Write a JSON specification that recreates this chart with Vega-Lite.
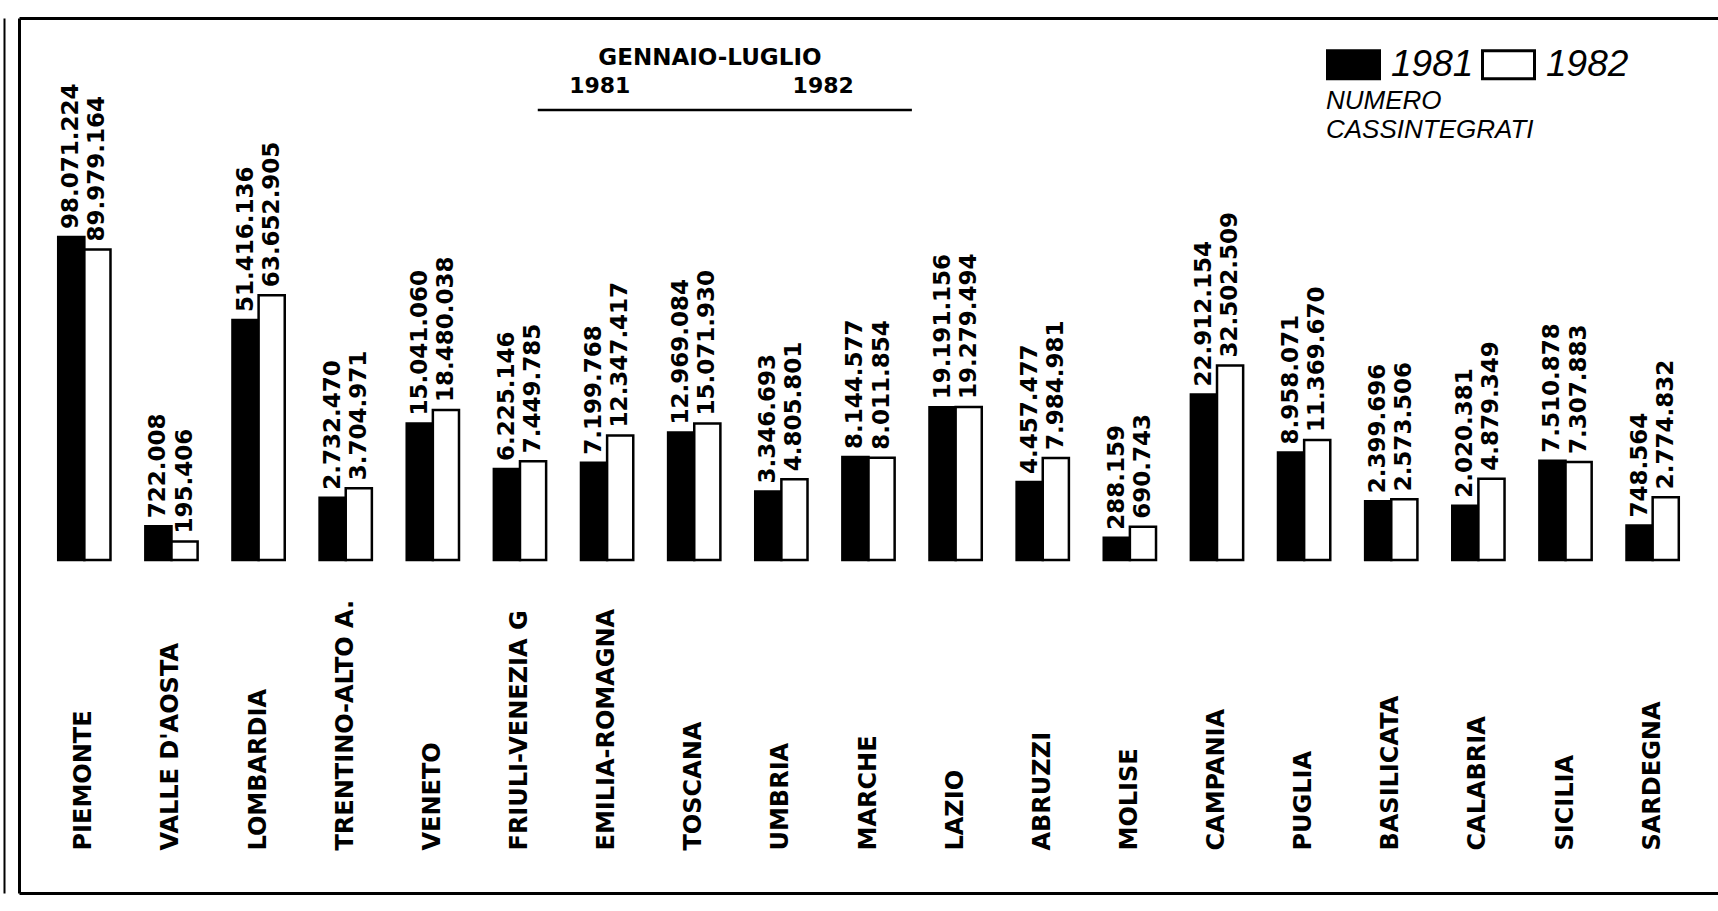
{
  "$schema": "https://vega.github.io/schema/vega-lite/v6.json",
  "width": 1699,
  "height": 875,
  "autosize": {"type": "none"},
  "padding": {"left": 19, "top": 18, "right": 0, "bottom": 18},
  "background": "white",
  "config": {
    "view": {"stroke": null},
    "font": "DejaVu Sans",
    "locale": {"number": {"decimal": ",", "thousands": ".", "grouping": [3], "currency": ["", ""]}}
  },
  "datasets": {
    "cig": [
      {"regione": "PIEMONTE", "anno": "1981", "valore": 98071224},
      {"regione": "PIEMONTE", "anno": "1982", "valore": 89979164},
      {"regione": "VALLE D'AOSTA", "anno": "1981", "valore": 722008},
      {"regione": "VALLE D'AOSTA", "anno": "1982", "valore": 195406},
      {"regione": "LOMBARDIA", "anno": "1981", "valore": 51416136},
      {"regione": "LOMBARDIA", "anno": "1982", "valore": 63652905},
      {"regione": "TRENTINO-ALTO A.", "anno": "1981", "valore": 2732470},
      {"regione": "TRENTINO-ALTO A.", "anno": "1982", "valore": 3704971},
      {"regione": "VENETO", "anno": "1981", "valore": 15041060},
      {"regione": "VENETO", "anno": "1982", "valore": 18480038},
      {"regione": "FRIULI-VENEZIA G", "anno": "1981", "valore": 6225146},
      {"regione": "FRIULI-VENEZIA G", "anno": "1982", "valore": 7449785},
      {"regione": "EMILIA-ROMAGNA", "anno": "1981", "valore": 7199768},
      {"regione": "EMILIA-ROMAGNA", "anno": "1982", "valore": 12347417},
      {"regione": "TOSCANA", "anno": "1981", "valore": 12969084},
      {"regione": "TOSCANA", "anno": "1982", "valore": 15071930},
      {"regione": "UMBRIA", "anno": "1981", "valore": 3346693},
      {"regione": "UMBRIA", "anno": "1982", "valore": 4805801},
      {"regione": "MARCHE", "anno": "1981", "valore": 8144577},
      {"regione": "MARCHE", "anno": "1982", "valore": 8011854},
      {"regione": "LAZIO", "anno": "1981", "valore": 19191156},
      {"regione": "LAZIO", "anno": "1982", "valore": 19279494},
      {"regione": "ABRUZZI", "anno": "1981", "valore": 4457477},
      {"regione": "ABRUZZI", "anno": "1982", "valore": 7984981},
      {"regione": "MOLISE", "anno": "1981", "valore": 288159},
      {"regione": "MOLISE", "anno": "1982", "valore": 690743},
      {"regione": "CAMPANIA", "anno": "1981", "valore": 22912154},
      {"regione": "CAMPANIA", "anno": "1982", "valore": 32502509},
      {"regione": "PUGLIA", "anno": "1981", "valore": 8958071},
      {"regione": "PUGLIA", "anno": "1982", "valore": 11369670},
      {"regione": "BASILICATA", "anno": "1981", "valore": 2399696},
      {"regione": "BASILICATA", "anno": "1982", "valore": 2573506},
      {"regione": "CALABRIA", "anno": "1981", "valore": 2020381},
      {"regione": "CALABRIA", "anno": "1982", "valore": 4879349},
      {"regione": "SICILIA", "anno": "1981", "valore": 7510878},
      {"regione": "SICILIA", "anno": "1982", "valore": 7307883},
      {"regione": "SARDEGNA", "anno": "1981", "valore": 748564},
      {"regione": "SARDEGNA", "anno": "1982", "valore": 2774832}
    ]
  },
  "layer": [
    {
      "data": {"name": "cig"},
      "mark": {"type": "bar", "stroke": "black", "strokeWidth": 2.5},
      "encoding": {
        "x": {
          "field": "regione", "type": "nominal", "sort": null,
          "scale": {
            "domain": ["PIEMONTE", "VALLE D'AOSTA", "LOMBARDIA", "TRENTINO-ALTO A.", "VENETO", "FRIULI-VENEZIA G", "EMILIA-ROMAGNA", "TOSCANA", "UMBRIA", "MARCHE", "LAZIO", "ABRUZZI", "MOLISE", "CAMPANIA", "PUGLIA", "BASILICATA", "CALABRIA", "SICILIA", "SARDEGNA"],
            "paddingInner": 0.4, "paddingOuter": 0.45
          },
          "axis": {
            "orient": "bottom", "domain": true, "domainColor": "black", "domainWidth": 3,
            "ticks": false, "tickSize": 0, "grid": false,
            "labelAngle": 270, "labelAlign": "left", "labelBaseline": "middle", "labelPadding": -43,
            "labelFont": "DejaVu Sans", "labelFontWeight": "bold", "labelFontSize": 24, "labelColor": "black",
            "labelLimit": 0, "labelOverlap": false, "labelBound": false, "labelFlush": false,
            "title": null
          }
        },
        "xOffset": {"field": "anno", "type": "nominal", "scale": {"domain": ["1981", "1982"], "paddingInner": 0, "paddingOuter": 0}},
        "y": {
          "field": "valore", "type": "quantitative",
          "scale": {"type": "pow", "exponent": 0.46, "domain": [-104850000, 302000000], "nice": false, "zero": false},
          "axis": {"orient": "left", "domain": true, "domainColor": "black", "domainWidth": 3, "labels": false, "ticks": false, "grid": false, "title": null}
        },
        "y2": {"datum": 0},
        "fill": {
          "field": "anno", "type": "nominal",
          "scale": {"domain": ["1981", "1982"], "range": ["black", "white"]},
          "legend": {
            "orient": "none", "legendX": 1307, "legendY": 19, "direction": "horizontal",
            "title": ["NUMERO", "CASSINTEGRATI"], "titleOrient": "bottom", "titleAnchor": "start",
            "titleFont": "Liberation Sans", "titleFontStyle": "italic", "titleFontWeight": "normal",
            "titleFontSize": 26, "titleLineHeight": 29, "titlePadding": 3, "titleLimit": 0, "titleColor": "black",
            "labelFont": "Liberation Sans", "labelFontStyle": "italic", "labelFontSize": 37, "labelColor": "black",
            "labelOffset": 10, "columnPadding": 2,
            "symbolType": "M-1,-0.54H1V0.54H-1Z", "symbolSize": 2704,
            "symbolStrokeColor": "black", "symbolStrokeWidth": 3, "symbolOpacity": 1
          }
        }
      }
    },
    {
      "data": {"name": "cig"},
      "mark": {"type": "text", "angle": 270, "align": "left", "baseline": "middle", "dx": 8, "font": "DejaVu Sans", "fontWeight": "bold", "fontSize": 23, "fill": "black"},
      "encoding": {
        "x": {
          "field": "regione", "type": "nominal", "sort": null,
          "axis": {"orient": "top", "labels": false, "ticks": false, "grid": false, "domain": true, "domainColor": "black", "domainWidth": 3, "title": null}
        },
        "xOffset": {"field": "anno", "type": "nominal"},
        "y": {
          "field": "valore", "type": "quantitative",
          "axis": {"orient": "left", "offset": 15, "domain": true, "domainColor": "black", "domainWidth": 2, "labels": false, "ticks": false, "grid": false, "title": null}
        },
        "text": {"field": "valore", "type": "quantitative", "format": ","}
      }
    },
    {
      "data": {"values": [{"t": "GENNAIO-LUGLIO"}]},
      "mark": {"type": "text", "align": "center", "baseline": "alphabetic", "font": "DejaVu Sans", "fontWeight": "bold", "fontSize": 23, "fill": "black"},
      "encoding": {
        "x": {"datum": "TOSCANA", "bandPosition": 0.8, "axis": null},
        "y": {"datum": 248000000, "axis": null},
        "text": {"field": "t", "type": "nominal"}
      }
    },
    {
      "data": {"values": [{"t": "1981"}]},
      "mark": {"type": "text", "align": "center", "baseline": "alphabetic", "font": "DejaVu Sans", "fontWeight": "bold", "fontSize": 22, "fill": "black"},
      "encoding": {
        "x": {"datum": "EMILIA-ROMAGNA", "bandPosition": 0.36, "axis": null},
        "y": {"datum": 218660000, "axis": null},
        "text": {"field": "t", "type": "nominal"}
      }
    },
    {
      "data": {"values": [{"t": "1982"}]},
      "mark": {"type": "text", "align": "center", "baseline": "alphabetic", "font": "DejaVu Sans", "fontWeight": "bold", "fontSize": 22, "fill": "black"},
      "encoding": {
        "x": {"datum": "UMBRIA", "bandPosition": 1.3, "axis": null},
        "y": {"datum": 218660000, "axis": null},
        "text": {"field": "t", "type": "nominal"}
      }
    },
    {
      "data": {"values": [{"t": "sottolineatura"}]},
      "mark": {"type": "rule", "stroke": "black", "strokeWidth": 2.5},
      "encoding": {
        "x": {"datum": "FRIULI-VENEZIA G", "bandPosition": 0.84, "axis": null},
        "x2": {"datum": "MARCHE", "bandPosition": 1.33},
        "y": {"datum": 201650000, "axis": null}
      }
    }
  ],
  "resolve": {"axis": {"x": "independent", "y": "independent"}}
}
